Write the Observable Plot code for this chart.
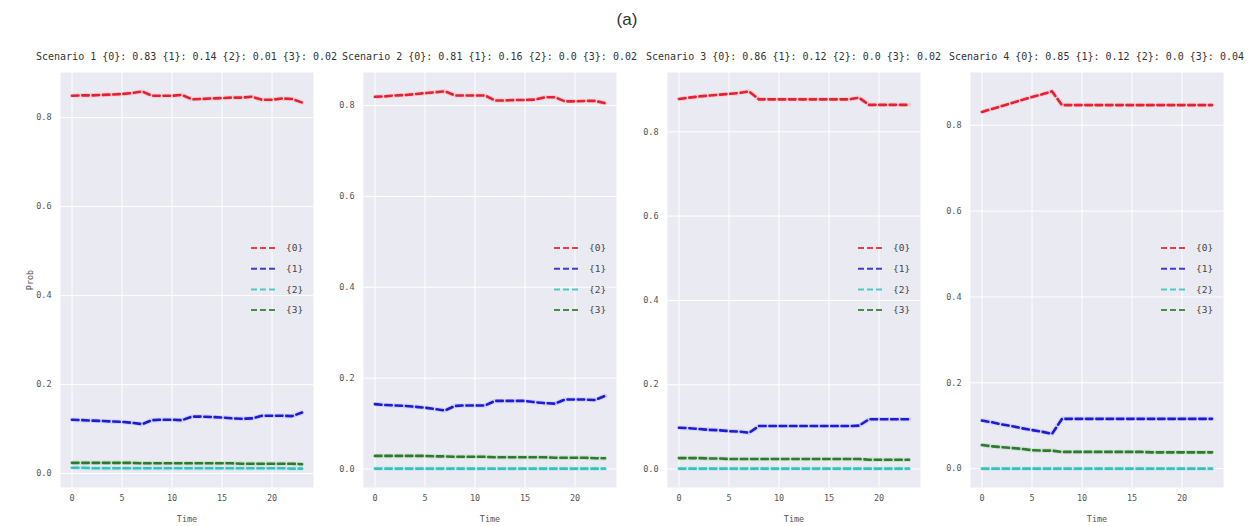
<!DOCTYPE html>
<html>
<head>
<meta charset="utf-8">
<script src="https://cdn.jsdelivr.net/npm/d3@7"></script>
<script src="https://cdn.jsdelivr.net/npm/@observablehq/plot@0.6"></script>
<style>
  html, body { margin: 0; padding: 0; background: #fff; }
  #root { position: relative; width: 1255px; height: 526px; overflow: hidden; font-family: "DejaVu Sans Mono", monospace; }
  .abs { position: absolute; }
  .ptitle { font-size: 10px; color: #333; white-space: nowrap; transform: translateX(-50%); line-height: 12px; }
  .main { font-family: "Liberation Sans Narrow", "Liberation Sans", sans-serif; font-size: 17px; color: #333; transform: translateX(-50%); }
</style>
</head>
<body>
<div id="root"></div>
<script>
// ---------- data ----------
const times = d3.range(0, 24); // Time 0..23
const seriesKeys = ["{0}", "{1}", "{2}", "{3}"];
const seriesColors = ["#e8202f", "#1c1cd6", "#33c4bd", "#2a7d2a"];
const xTicks = [0, 5, 10, 15, 20];
const yTicks = [0, 0.2, 0.4, 0.6, 0.8];
const mainTitle = "(a)";
const yLabel = "Prob";
const xLabel = "Time";
const scenarioTitles = [
  "Scenario 1 {0}: 0.83 {1}: 0.14 {2}: 0.01 {3}: 0.02",
  "Scenario 2 {0}: 0.81 {1}: 0.16 {2}: 0.0 {3}: 0.02",
  "Scenario 3 {0}: 0.86 {1}: 0.12 {2}: 0.0 {3}: 0.02",
  "Scenario 4 {0}: 0.85 {1}: 0.12 {2}: 0.0 {3}: 0.04"
];

// Scenario 1
const s1_0 = [0.849,0.850,0.850,0.851,0.852,0.853,0.855,0.859,0.849,0.849,0.849,0.851,0.841,0.842,0.843,0.844,0.845,0.845,0.847,0.840,0.840,0.843,0.842,0.834];
const s1_1 = [0.121,0.120,0.119,0.118,0.117,0.116,0.114,0.111,0.120,0.121,0.121,0.120,0.128,0.128,0.127,0.126,0.124,0.123,0.124,0.130,0.130,0.130,0.129,0.137];
const s1_2 = [0.013,0.013,0.012,0.012,0.012,0.012,0.012,0.012,0.012,0.012,0.012,0.012,0.012,0.012,0.012,0.012,0.012,0.012,0.012,0.012,0.012,0.012,0.011,0.011];
const s1_3 = [0.024,0.024,0.024,0.024,0.024,0.024,0.024,0.023,0.023,0.023,0.023,0.023,0.023,0.023,0.023,0.023,0.023,0.022,0.022,0.022,0.022,0.022,0.022,0.021];
// Scenario 2
const s2_0 = [0.819,0.820,0.822,0.823,0.825,0.827,0.829,0.831,0.822,0.822,0.822,0.822,0.811,0.811,0.812,0.812,0.813,0.818,0.818,0.809,0.809,0.810,0.810,0.805];
const s2_1 = [0.143,0.141,0.140,0.139,0.137,0.135,0.132,0.129,0.139,0.140,0.140,0.140,0.150,0.150,0.150,0.150,0.147,0.145,0.144,0.153,0.153,0.153,0.152,0.161];
const s2_2 = [0.001,0.001,0.001,0.001,0.001,0.001,0.001,0.001,0.001,0.001,0.001,0.001,0.001,0.001,0.001,0.001,0.001,0.001,0.001,0.001,0.001,0.001,0.001,0.001];
const s2_3 = [0.029,0.029,0.029,0.029,0.029,0.029,0.028,0.028,0.027,0.027,0.027,0.027,0.026,0.026,0.026,0.026,0.026,0.026,0.025,0.025,0.025,0.025,0.024,0.024];
// Scenario 3
const s3_0 = [0.878,0.881,0.884,0.886,0.888,0.890,0.892,0.896,0.877,0.877,0.877,0.877,0.877,0.877,0.877,0.877,0.877,0.877,0.881,0.864,0.864,0.864,0.864,0.864];
const s3_1 = [0.098,0.097,0.095,0.093,0.092,0.090,0.089,0.086,0.102,0.102,0.102,0.102,0.102,0.102,0.102,0.102,0.102,0.102,0.103,0.118,0.118,0.118,0.118,0.118];
const s3_2 = [0.001,0.001,0.001,0.001,0.001,0.001,0.001,0.001,0.001,0.001,0.001,0.001,0.001,0.001,0.001,0.001,0.001,0.001,0.001,0.001,0.001,0.001,0.001,0.001];
const s3_3 = [0.026,0.026,0.026,0.025,0.025,0.024,0.024,0.024,0.024,0.024,0.024,0.024,0.024,0.024,0.024,0.024,0.024,0.024,0.024,0.022,0.022,0.022,0.022,0.022];
// Scenario 4
const s4_0 = [0.831,0.838,0.845,0.852,0.859,0.866,0.872,0.879,0.847,0.847,0.847,0.847,0.847,0.847,0.847,0.847,0.847,0.847,0.847,0.847,0.847,0.847,0.847,0.847];
const s4_1 = [0.112,0.108,0.103,0.099,0.094,0.090,0.086,0.081,0.116,0.116,0.116,0.116,0.116,0.116,0.116,0.116,0.116,0.116,0.116,0.116,0.116,0.116,0.116,0.116];
const s4_2 = [0.000,0.000,0.000,0.000,0.000,0.000,0.000,0.000,0.000,0.000,0.000,0.000,0.000,0.000,0.000,0.000,0.000,0.000,0.000,0.000,0.000,0.000,0.000,0.000];
const s4_3 = [0.055,0.052,0.050,0.048,0.046,0.043,0.042,0.042,0.039,0.039,0.039,0.039,0.039,0.039,0.039,0.039,0.039,0.038,0.038,0.038,0.038,0.038,0.038,0.038];

const scenarios = [
  [s1_0, s1_1, s1_2, s1_3],
  [s2_0, s2_1, s2_2, s2_3],
  [s3_0, s3_1, s3_2, s3_3],
  [s4_0, s4_1, s4_2, s4_3]
];

// ---------- layout ----------
const root = document.getElementById("root");
const panelLefts = [60, 363, 667, 970];
const panelW = 253, panelTop = 72, panelH = 415;
const ML = 50, MB = 40;

const main = document.createElement("div");
main.className = "abs main";
main.style.left = "627px"; main.style.top = "10px";
main.textContent = mainTitle;
root.appendChild(main);

scenarios.forEach((arrs, i) => {
  const rows = [];
  arrs.forEach((vals, k) => vals.forEach((v, j) => rows.push({t: times[j], v, k: seriesKeys[k]})));
  const all = rows.map(d => d.v);
  const lo = d3.min(all), hi = d3.max(all), pad = (hi - lo) * 0.05;

  const chart = Plot.plot({
    width: panelW + ML, height: panelH + MB,
    marginLeft: ML, marginRight: 0, marginTop: 0, marginBottom: MB,
    style: {background: "transparent", fontFamily: "DejaVu Sans Mono, monospace", fontSize: "8.5px", color: "#555", overflow: "visible"},
    x: {domain: [-1.15, 24.15]},
    y: {domain: [lo - pad, hi + pad]},
    color: {domain: seriesKeys, range: seriesColors},
    marks: [
      Plot.frame({fill: "#EAEAF2", stroke: "none"}),
      Plot.gridX(xTicks, {stroke: "white", strokeOpacity: 1, strokeWidth: 1}),
      Plot.gridY(yTicks, {stroke: "white", strokeOpacity: 1, strokeWidth: 1}),
      Plot.axisX(xTicks, {tickSize: 0, tickPadding: 7, label: xLabel, labelAnchor: "center", labelOffset: 34, labelArrow: "none"}),
      Plot.axisY(yTicks, {tickSize: 0, tickPadding: 9, tickFormat: d3.format(".1f"),
        label: i === 0 ? yLabel : null, labelAnchor: "center", labelOffset: 34, labelArrow: "none"}),
      Plot.line(rows, {x: "t", y: "v", z: "k", stroke: "k", strokeWidth: 4.5, strokeOpacity: 0.12}),
      Plot.line(rows, {x: "t", y: "v", z: "k", stroke: "k", strokeWidth: 2.6, strokeDasharray: "6.5,3.8"})
    ]
  });
  chart.style.position = "absolute";
  chart.style.left = (panelLefts[i] - ML) + "px";
  chart.style.top = panelTop + "px";
  root.appendChild(chart);

  // subplot title
  const tt = document.createElement("div");
  tt.className = "abs ptitle";
  tt.style.left = (panelLefts[i] + panelW / 2) + "px";
  tt.style.top = "51px";
  tt.textContent = scenarioTitles[i];
  root.appendChild(tt);

  // legend (center right, no frame)
  const lg = d3.create("svg").attr("width", 70).attr("height", 84)
    .style("position", "absolute")
    .style("left", (panelLefts[i] + panelW - 70) + "px")
    .style("top", (panelTop + panelH / 2 - 42) + "px")
    .style("font-family", "DejaVu Sans Mono, monospace").style("font-size", "9.5px");
  seriesKeys.forEach((key, k) => {
    const y = 10 + k * 20.7;
    lg.append("line").attr("x1", 8).attr("x2", 32).attr("y1", y).attr("y2", y)
      .attr("stroke", seriesColors[k]).attr("stroke-width", 2).attr("stroke-dasharray", "6,3").attr("stroke-opacity", 0.85);
    lg.append("text").attr("x", 43).attr("y", y).attr("dy", "0.35em").attr("fill", "#444").text(key);
  });
  root.appendChild(lg.node());
});
</script>
</body>
</html>
